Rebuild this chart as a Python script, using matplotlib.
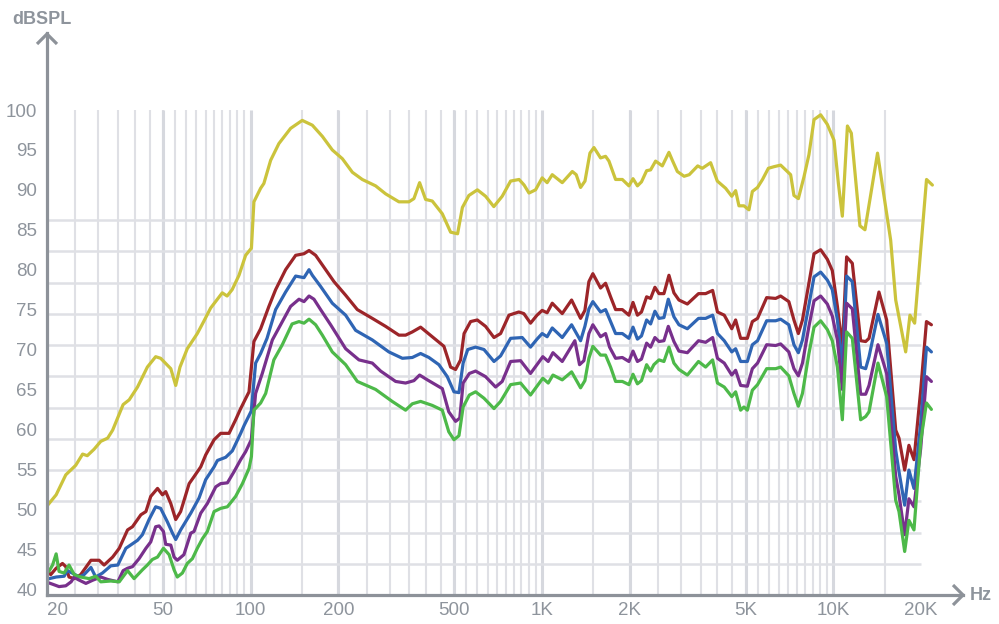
import matplotlib
matplotlib.use("Agg")
import matplotlib.pyplot as plt
import numpy as np

plt.rcParams['font.family'] = ['Liberation Sans', 'DejaVu Sans']

# ---------------- data ----------------
freq_yellow = [19.8, 21.5, 23.2, 25.1, 26.5, 27.5, 29.0, 30.6, 32.3, 33.6, 36.5, 38.3, 40.9, 44.2, 47.2,
               49.1, 53.2, 55.3, 57.2, 60.6, 65.6, 69.2, 72.9, 79.9, 83.0, 86.4, 91.2, 96.1, 100.6, 102.6,
               108.2, 111.0, 117.1, 125.0, 137.1, 150.3, 162.8, 176.2, 190.6, 206.4, 223.4, 241.6, 268.4,
               290.5, 322.7, 349.3, 363.3, 380, 398.5, 420, 454.7, 485.5, 513, 533, 561, 600, 640, 683,
               730, 780, 834, 868, 902, 950, 1001, 1041, 1084, 1173, 1270, 1310, 1356, 1404, 1460, 1507,
               1588, 1652, 1697, 1788, 1886, 1987, 2052, 2125, 2194, 2285, 2358, 2453, 2587, 2726, 2800,
               2913, 3073, 3200, 3422, 3547, 3789, 3995, 4266, 4478, 4617, 4740, 4930, 5130, 5270, 5490,
               5710, 5980, 6250, 6589, 6855, 7131, 7320, 7580, 7920, 8240, 8580, 9040, 9530, 10050, 10400,
               10730, 11170, 11520, 12330, 12830, 14170, 15720, 16360, 17700, 18310, 19000, 20870, 21860]
db_yellow = [50.2, 51.8, 54.3, 55.5, 56.9, 56.7, 57.5, 58.5, 58.9, 59.9, 63.1, 63.7, 65.3, 67.8, 69.1,
             68.9, 67.6, 65.5, 67.8, 70.1, 72.0, 73.6, 75.2, 77.1, 76.7, 77.5, 79.3, 81.8, 82.7, 88.5,
             90.2, 90.8, 93.7, 95.8, 97.7, 98.7, 98.1, 96.7, 95.0, 93.9, 92.2, 91.3, 90.5,
             89.5, 88.5, 88.5, 88.9, 90.9, 88.8, 88.6, 87.0, 84.7, 84.5, 87.8, 89.3, 90.0, 89.2, 87.9,
             89.2, 91.1, 91.3, 90.6, 89.6, 90.0, 91.5, 90.9, 91.9, 90.9, 92.3, 91.9, 90.3, 91.1, 94.6, 95.3,
             94.0, 94.2, 93.6, 91.3, 91.3, 90.5, 91.4, 90.5, 91.0, 92.4, 92.5, 93.6, 93.0, 94.7, 93.7,
             92.3, 91.7, 91.9, 93.0, 92.7, 93.4, 91.1, 90.2, 89.2, 89.9, 88.0, 88.0, 87.5, 89.8, 90.3,
             91.3, 92.7, 92.9, 93.1, 92.5, 91.9, 89.3, 88.9, 91.6, 94.4, 98.8, 99.4, 98.2, 96.2, 90.8,
             86.7, 98.0, 97.1, 85.5, 85.0, 94.6, 83.7, 76.2, 69.7, 74.3, 73.3, 91.3, 90.6]

freq_red = [19.8, 20.6, 21.5, 22.6, 23.2, 23.8, 24.8, 26.1, 28.3, 30.2, 31.4, 33.6, 35.4, 37.8, 39.3,
            42.0, 43.7, 45.4, 47.9, 49.8, 51.1, 53.2, 55.3, 57.5, 61.5, 64.0, 67.4, 70.1, 74.9, 78.9,
            84.3, 88.8, 92.4, 98.7, 102.6, 108.2, 115.5, 121.8, 131.8, 142.7, 152.4, 158.6, 167.1,
            180.8, 193.2, 211.8, 232.3, 261.5, 290.5, 322.7, 340.2, 358.7, 383.0, 420.2, 460.5, 485.5,
            505.0, 525.4, 540, 568.6, 599.6, 640, 684, 720.7, 770, 832, 866, 913, 961, 1001, 1041, 1084,
            1173, 1263, 1356, 1403, 1448, 1494, 1588, 1652, 1719, 1788, 1886, 1987, 2052, 2125, 2194,
            2285, 2358, 2440, 2520, 2620, 2726, 2835, 2950, 3153, 3443, 3642, 3850, 4000, 4220, 4478,
            4617, 4803, 5065, 5270, 5490, 5900, 6334, 6589, 7030, 7320, 7580, 7830, 8240, 8580, 9040,
            9530, 9910, 10320, 10730, 11100, 11610, 12400, 12900, 13250, 14330, 15230, 16360, 16790,
            17560, 18160, 18900, 19930, 20860, 21690]
db_red = [42.4, 41.8, 42.6, 43.2, 42.8, 41.5, 41.3, 41.8, 43.6, 43.6, 43.0, 44.0, 45.1, 47.4, 47.8,
          49.3, 49.7, 51.6, 52.6, 51.8, 52.2, 50.7, 48.7, 49.7, 53.2, 54.1, 55.3, 56.8, 58.7, 59.5,
          59.5, 61.2, 62.6, 64.7, 71.0, 72.6, 75.4, 77.5, 80.0, 81.8, 82.0, 82.4, 81.8,
          80.0, 78.5, 76.8, 75.0, 73.9, 72.9, 71.8, 71.8, 72.2, 72.8, 71.6, 70.4, 67.8,
          67.5, 68.7, 72.0, 73.5, 73.7, 72.9, 71.5, 72.0, 74.3, 74.7, 74.5, 73.3, 74.3, 74.9, 74.6, 75.8,
          74.5, 76.2, 73.9, 74.9, 78.5, 79.5, 77.7, 78.3, 76.6, 75.0, 75.0, 74.3, 75.9, 74.3, 74.7,
          76.6, 76.4, 77.8, 77.0, 77.0, 79.3, 77.1, 76.2, 75.7, 77.0, 77.0, 77.4, 74.7, 74.3, 72.6,
          73.7, 71.4, 71.4, 73.5, 73.9, 76.5, 76.4, 76.7, 76.0, 73.7, 72.0, 73.7, 78.3, 82.0, 82.5,
          81.3, 79.9, 75.4, 70.2, 81.6, 80.8, 71.1, 71.0, 71.4, 77.2, 73.7, 59.9, 58.9,
          54.9, 58.0, 56.2, 64.9, 73.5, 73.1]

freq_blue = [19.8, 21.5, 22.9, 23.5, 24.4, 25.8, 26.8, 28.3, 29.4, 31.0, 33.1, 35.0, 37.3, 40.9, 42.5,
             44.8, 47.2, 49.1, 51.8, 53.9, 55.3, 57.5, 62.3, 66.5, 70.1, 74.9, 76.9, 82.1, 86.5, 92.4,
             95.0, 100.5, 104.0, 108.2, 113.8, 121.8, 131.8, 142.7, 152.4, 158.6, 162.8, 173.8, 190.6,
             211.8, 229.2, 261.5, 298, 331.6, 358.7, 383.0, 409, 442.6, 472.9, 498.6, 518.6, 536, 556,
             591.5, 632, 684, 720.7, 780, 855, 913, 961, 1001, 1041, 1084, 1173, 1263, 1356, 1403, 1448,
             1494, 1588, 1652, 1719, 1788, 1886, 1987, 2052, 2125, 2194, 2285, 2358, 2440, 2520, 2620,
             2712, 2835, 2950, 3153, 3443, 3642, 3850, 4000, 4220, 4478, 4617, 4803, 5065, 5270, 5490,
             5900, 6334, 6589, 7030, 7320, 7580, 7830, 8240, 8580, 9040, 9530, 9910, 10320, 10730,
             11100, 11610, 12400, 12900, 13250, 14220, 15230, 16360, 16790, 17560, 18160, 18900, 19930,
             20860, 21690]
db_blue = [41.2, 41.5, 41.6, 42.3, 42.0, 41.5, 41.8, 42.7, 41.5, 42.0, 42.9, 43.0, 45.1, 46.1, 46.8,
           48.7, 50.3, 50.1, 48.4, 47.0, 46.2, 47.4, 49.5, 51.4, 53.7, 55.3, 56.1, 56.5, 57.3, 59.5,
           60.5, 62.3, 68.3, 69.5, 71.4, 75.0, 77.2, 79.2, 79.0, 80.0, 79.3, 77.9, 75.8,
           74.3, 72.4, 71.2, 69.7, 68.9, 69.0, 69.5, 69.0, 68.1, 66.6, 64.7, 64.6, 68.3, 70.0,
           70.3, 70.0, 68.5, 69.2, 71.4, 71.5, 70.3, 71.3, 72.0, 71.6, 72.7, 71.5, 73.1, 71.1, 72.9, 75.1,
           76.0, 74.7, 75.0, 73.5, 72.0, 72.0, 71.4, 72.8, 71.3, 71.7, 73.7, 73.2, 74.8, 73.9, 74.0,
           76.3, 74.1, 73.1, 72.6, 73.9, 73.9, 74.3, 72.0, 71.1, 69.7, 70.1, 68.5, 68.5, 70.6, 71.1,
           73.6, 73.6, 73.8, 73.1, 70.6, 69.6, 71.2, 75.6, 79.1, 79.7, 78.7, 77.5, 73.7, 67.8,
           79.2, 78.5, 67.8, 67.6, 69.1, 74.4, 70.8, 57.4, 54.7, 50.5, 54.9, 52.6, 60.7,
           70.3, 69.7]

freq_purple = [19.8, 20.9, 22.0, 23.2, 24.2, 24.8, 25.5, 27.2, 28.7, 30.6, 32.3, 35.0, 36.5, 37.8, 39.3,
               41.4, 43.7, 45.4, 47.2, 48.5, 50.2, 51.1, 53.2, 54.6, 56.0, 59.0, 62.3, 63.9, 67.4, 71.0,
               75.9, 78.9, 83.2, 87.7, 92.4, 96.1, 100.5, 104.0, 109.6, 118.7, 128.4, 137.1, 146.5,
               152.4, 158.6, 164.9, 173.8, 188.1, 211.8, 235.3, 261.5, 279.3, 314.4, 340.2, 363.3, 380,
               404, 454.7, 478.5, 505.0, 522, 536, 563, 591.5, 640, 692.8, 730, 780, 844, 913, 961, 1006,
               1050, 1090, 1173, 1296, 1345, 1392, 1448, 1494, 1588, 1652, 1705, 1788, 1886, 1987, 2052,
               2125, 2194, 2285, 2358, 2440, 2520, 2620, 2712, 2835, 2950, 3153, 3443, 3642, 3850, 4000,
               4220, 4478, 4617, 4803, 5065, 5270, 5490, 5900, 6334, 6589, 7030, 7320, 7580, 7830, 8240,
               8580, 9040, 9530, 9910, 10320, 10730, 11100, 11610, 12400, 12900, 13250, 14220, 15230,
               16360, 16790, 17560, 18160, 18900, 19930, 20860, 21690]
db_purple = [40.9, 40.6, 40.3, 40.4, 40.9, 41.5, 41.2, 40.7, 41.1, 41.5, 41.2, 40.9, 42.3, 42.6, 42.8,
             43.8, 45.1, 45.9, 47.8, 47.9, 47.2, 45.6, 45.5, 44.0, 43.6, 44.3, 47.0, 47.2, 49.5, 50.7,
             52.8, 53.2, 53.3, 54.7, 56.2, 57.2, 58.7, 64.5, 67.0, 71.2, 73.5, 75.4, 76.3,
             76.0, 76.7, 76.3, 75.0, 73.1, 70.1, 68.7, 68.3, 67.3, 66.0, 65.8, 66.1, 66.8,
             66.2, 65.1, 62.2, 61.0, 61.4, 65.8, 67.0, 67.3, 66.6, 65.3, 66.0, 68.5, 68.6, 67.0, 68.1, 69.1,
             68.5, 69.6, 68.5, 71.1, 68.1, 68.6, 72.0, 73.1, 71.6, 72.0, 70.3, 68.9, 69.0, 68.5, 69.8,
             68.5, 68.8, 70.8, 70.3, 71.5, 71.0, 71.1, 72.9, 71.0, 69.8, 69.6, 71.1, 70.9, 71.5, 68.9,
             68.3, 66.8, 67.4, 65.5, 65.4, 67.6, 68.3, 70.6, 70.5, 70.7, 69.7, 67.6, 66.7, 68.3, 72.9,
             76.1, 76.7, 75.7, 74.2, 71.2, 65.0, 75.8, 75.1, 64.4, 64.4, 65.5, 70.6, 67.0,
             54.1, 51.8, 46.8, 51.3, 50.3, 57.6, 66.6, 66.0]

freq_green = [19.8, 20.3, 20.9, 21.5, 22.0, 22.9, 23.8, 24.8, 26.1, 27.9, 29.4, 30.6, 33.1, 35.4, 37.8,
              39.8, 42.5, 44.2, 46.0, 47.9, 50.2, 52.5, 54.6, 56.0, 58.3, 60.6, 63.1, 65.6, 68.3, 71.0,
              74.9, 78.9, 83.2, 88.8, 93.7, 98.7, 100.6, 102.6, 108.2, 112.6, 120.1, 128.4, 138.7,
              146.5, 152.4, 158.6, 167.1, 176.2, 190.6, 211.8, 232.3, 268.4, 306, 340.2, 358.7, 383.0,
              420, 454.7, 478.5, 498.6, 518.6, 536, 563, 591.5, 632, 684, 720.7, 780, 844, 913, 961, 1006,
              1050, 1090, 1173, 1263, 1356, 1403, 1448, 1494, 1588, 1652, 1719, 1788, 1886, 1987, 2052,
              2125, 2194, 2285, 2358, 2420, 2520, 2620, 2726, 2835, 2950, 3153, 3443, 3642, 3850, 4000,
              4220, 4478, 4617, 4803, 4930, 5065, 5270, 5490, 5900, 6334, 6589, 7030, 7320, 7580, 7830,
              8240, 8580, 9040, 9530, 9910, 10320, 10730, 11100, 11610, 12400, 12900, 13250, 14220,
              15230, 16360, 16790, 17560, 18160, 18900, 19930, 20860, 21690]
db_green = [42.9, 42.2, 43.0, 44.4, 42.2, 42.0, 43.0, 41.8, 41.5, 41.3, 41.6, 40.9, 41.0, 40.9, 42.3,
            41.3, 42.4, 43.0, 43.7, 44.0, 45.1, 44.3, 42.4, 41.5, 42.0, 43.2, 43.8, 45.1, 46.3, 47.2,
            49.7, 50.1, 50.3, 51.6, 53.2, 55.1, 56.6, 62.4, 63.3, 64.5, 68.7, 70.6, 73.2,
            73.5, 73.3, 73.8, 73.1, 71.8, 69.7, 68.1, 66.0, 65.0, 63.5, 62.4, 63.2, 63.5,
            63.0, 62.4, 59.7, 58.7, 59.2, 62.8, 64.3, 64.7, 63.9, 62.6, 63.5, 65.6, 65.8, 64.3, 65.4, 66.4,
            65.8, 66.8, 66.2, 67.2, 65.2, 66.1, 68.9, 70.4, 69.3, 69.3, 67.8, 66.0, 66.0, 65.6, 66.9,
            65.7, 66.1, 68.1, 67.3, 68.1, 68.7, 68.5, 70.3, 68.3, 67.5, 66.8, 68.5, 67.8, 68.7, 65.8,
            65.3, 64.1, 64.7, 62.4, 62.8, 62.4, 64.9, 65.6, 67.6, 67.6, 67.8, 66.7, 64.5, 62.9, 64.5,
            69.5, 72.8, 73.6, 72.5, 71.1, 67.8, 61.2, 72.2, 71.4, 61.2, 61.6, 62.2, 68.3,
            64.1, 51.1, 49.7, 44.7, 48.6, 47.4, 58.5, 63.3, 62.5]

tick_freqs = [20, 50, 100, 200, 500, 1000, 2000, 5000, 10000, 20000]
tick_labels = ['20', '50', '100', '200', '500', '1K', '2K', '5K', '10K', '20K']
ytick_values = list(range(40, 101, 5))

series = [
    (freq_yellow, db_yellow, '#cbc33c'),
    (freq_red, db_red, '#9c2529'),
    (freq_blue, db_blue, '#2f65b4'),
    (freq_purple, db_purple, '#78308c'),
    (freq_green, db_green, '#4db949'),
]

# ---------------- layout (pixel calibration) ----------------
W, H = 999, 624
PX_100HZ, PX_PER_DEC = 250.0, 291.65
PX_40DB, PX_PER_DB = 589.0, 7.983
AX_L, AX_R, AX_T, AX_B = 47, 963, 33, 595


def px2f(x):
    return 100 * 10 ** ((x - PX_100HZ) / PX_PER_DEC)


def py2db(y):
    return 40 + (PX_40DB - y) / PX_PER_DB


TXT = '#8e949c'
AXC = '#8d9299'
GRID = '#dfe0e5'
GRID_MAJ = '#d6d8de'

fig = plt.figure(figsize=(W / 100, H / 100), dpi=100)
ax = fig.add_axes([AX_L / W, 1 - AX_B / H, (AX_R - AX_L) / W, (AX_B - AX_T) / H])
ax.set_xscale('log')
ax.set_xlim(px2f(AX_L), px2f(AX_R))
ax.set_ylim(py2db(AX_B), py2db(AX_T))

# grid
minor_v = ([f for f in range(25, 100, 5)] + [f for f in range(150, 1000, 50)] +
           [f for f in range(1500, 10000, 500)] + [15000])
for f in minor_v:
    ax.plot([f, f], [py2db(AX_B), 100], color=GRID, lw=1.5, zorder=1, solid_capstyle='butt')
for f in [50, 100, 200, 500, 1000, 2000, 5000, 10000]:
    ax.plot([f, f], [py2db(AX_B), 100], color=GRID_MAJ, lw=2.2, zorder=1, solid_capstyle='butt')
h_px = [220 + 31.25 * k for k in range(12)]
for yp in h_px:
    ax.plot([20, 20000], [py2db(yp)] * 2, color=GRID, lw=1.8, zorder=1, solid_capstyle='butt')

# data
for fr, db, col in series:
    ax.plot(fr, db, color=col, lw=2.3, zorder=3, solid_joinstyle='round', solid_capstyle='round')

# spines / axes lines
for s in ['top', 'right']:
    ax.spines[s].set_visible(False)
for s in ['left', 'bottom']:
    ax.spines[s].set_color(AXC)
    ax.spines[s].set_linewidth(2.3)
    ax.spines[s].set_zorder(4)

# arrows (chevrons)
def px_to_axes(x, y):
    return (x - AX_L) / (AX_R - AX_L), (AX_B - y) / (AX_B - AX_T)

for pts in ([(37, 44), (47, 34), (57, 44)], [(953, 585), (963, 595), (953, 605)]):
    xs, ys = zip(*[px_to_axes(*p) for p in pts])
    ax.plot(xs, ys, transform=ax.transAxes, color=AXC, lw=2.3, clip_on=False,
            solid_joinstyle='miter', solid_capstyle='butt', zorder=5)

ax.set_xticks(tick_freqs)
ax.set_xticklabels(tick_labels)
ax.xaxis.set_minor_locator(matplotlib.ticker.NullLocator())
ax.set_yticks(ytick_values)
ax.set_yticklabels([str(v) for v in ytick_values])
ax.tick_params(axis='both', length=0, labelsize=13.5, labelcolor=TXT)
ax.tick_params(axis='x', pad=5)
ax.tick_params(axis='y', pad=7)
ax.get_xticklabels()[0].set_horizontalalignment('left')

fig.text(42 / W, 1 - 19 / H, 'dBSPL', ha='center', va='center', fontsize=13,
         fontweight='bold', color=TXT)
fig.text(981 / W, 1 - 595 / H, 'Hz', ha='center', va='center', fontsize=13,
         fontweight='bold', color=TXT)

fig.savefig('out.png', dpi=100)
